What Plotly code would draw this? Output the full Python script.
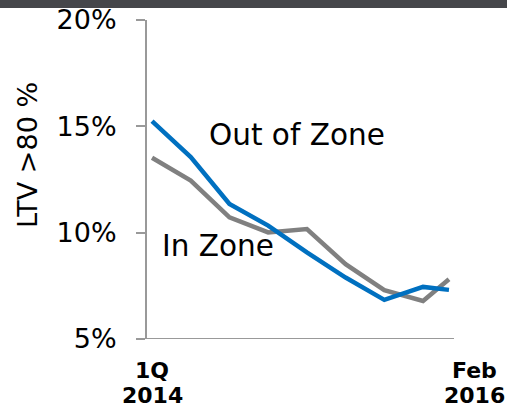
import plotly.graph_objects as go

# Data
periods = ["1Q 2014", "2Q 2014", "3Q 2014", "4Q 2014", "1Q 2015", "2Q 2015", "3Q 2015", "4Q 2015", "Feb 2016"]
period_pos = [0, 1, 2, 3, 4, 5, 6, 7, 7.67]
out_of_zone = [15.25, 13.55, 11.35, 10.33, 9.07, 7.89, 6.84, 7.45, 7.31]
in_zone = [13.52, 12.45, 10.72, 10.01, 10.17, 8.52, 7.30, 6.79, 7.81]
y_ticks = [5, 10, 15, 20]
y_tick_text = ["5%", "10%", "15%", "20%"]
x_labels = ["1Q<br>2014", "Feb<br>2016"]

FONT = "DejaVu Sans"
W, H = 507, 408
ml, mr, mt, mb = 147, 53, 20, 69
PW, PH = W - ml - mr, H - mt - mb

fig = go.Figure()
fig.add_trace(go.Scatter(x=period_pos, y=in_zone, mode="lines", name="In Zone",
                         line=dict(color="#808080", width=4.5)))
fig.add_trace(go.Scatter(x=period_pos, y=out_of_zone, mode="lines", name="Out of Zone",
                         line=dict(color="#0070C0", width=4.5)))

fig.update_layout(
    template="none",
    width=W, height=H,
    margin=dict(l=ml, r=mr, t=mt, b=mb, autoexpand=False),
    paper_bgcolor="white", plot_bgcolor="white",
    showlegend=False, hovermode=False,
    font=dict(family=FONT, color="black"),
    xaxis=dict(range=[-0.13, 7.8], showgrid=False, zeroline=False, automargin=False,
               showline=False, showticklabels=False, ticks=""),
    yaxis=dict(range=[5, 20], tickvals=y_ticks, ticktext=y_tick_text, automargin=False,
               showgrid=False, zeroline=False,
               showline=True, linecolor="#999999", linewidth=2,
               ticks="outside", ticklen=9, tickcolor="#999999", tickwidth=2,
               tickfont=dict(size=27, family=FONT), ticklabelstandoff=14),
)

# x axis baseline extending left to tick length
fig.add_shape(type="line", xref="paper", yref="y", x0=-9 / PW, x1=1.0, y0=5, y1=5,
              line=dict(color="#999999", width=2))

# dark top band
fig.add_shape(type="rect", xref="paper", yref="paper",
              x0=-ml / PW, x1=1 + mr / PW, y0=1 + (mt - 8) / PH, y1=1 + mt / PH,
              fillcolor="#45464A", line=dict(width=0), layer="above")

# x category labels (two lines each, tighter spacing than default)
for pos, lab, xs in [(period_pos[0], x_labels[0], 0), (period_pos[-1], x_labels[1], 26)]:
    lines = lab.split("<br>")
    for i, ln in enumerate(lines):
        fig.add_annotation(x=pos, y=0, xref="x", yref="paper", yanchor="middle",
                           yshift=-(31 + 25 * i), xshift=xs, text="<b>" + ln + "</b>",
                           showarrow=False, font=dict(size=22, family=FONT))

# series labels
fig.add_annotation(x=3.75, y=14.6, xref="x", yref="y", text="Out of Zone", showarrow=False,
                   font=dict(size=29.5, family=FONT))
fig.add_annotation(x=1.7, y=9.37, xref="x", yref="y", text="In Zone", showarrow=False,
                   font=dict(size=29.5, family=FONT))

# y axis title
fig.add_annotation(x=(27 - ml) / PW, y=1 - (155 - mt) / PH, xref="paper", yref="paper",
                   xanchor="center", yanchor="middle",
                   text="LTV >80 %", showarrow=False,
                   textangle=-90, font=dict(size=27, family=FONT))

fig.write_html("out.html", config={"displayModeBar": False},
               post_script="document.body.style.margin='0';document.body.style.overflow='hidden';")
